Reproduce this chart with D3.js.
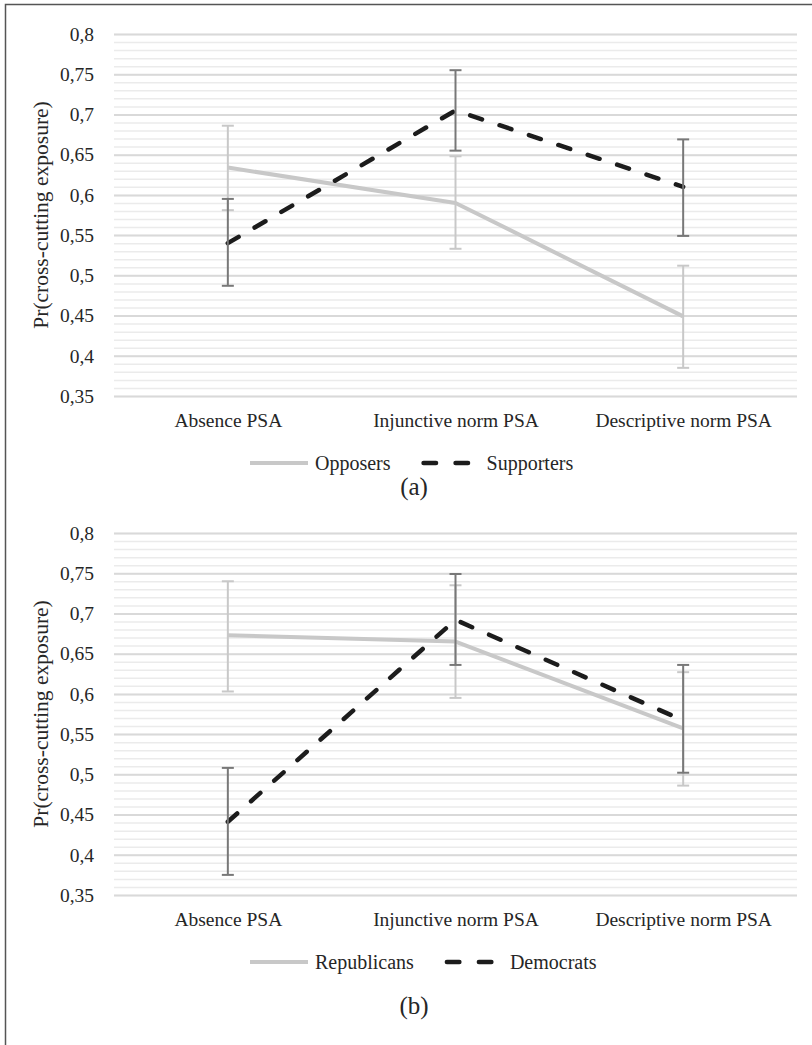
<!DOCTYPE html>
<html>
<head>
<meta charset="utf-8">
<script src="https://cdn.jsdelivr.net/npm/d3@7"></script>
<style>
  body { margin: 0; background: #fff; }
  svg { display: block; }
  text { font-family: "Liberation Serif", "Times New Roman", serif; fill: #262626; }
</style>
</head>
<body>
<div id="chart"></div>
<script>
const categories = ['Absence PSA', 'Injunctive norm PSA', 'Descriptive norm PSA'];
const yTicks = [0.35, 0.4, 0.45, 0.5, 0.55, 0.6, 0.65, 0.7, 0.75, 0.8];

// panel (a)
const opposers = [0.634, 0.590, 0.449];
const opposersLow = [0.581, 0.533, 0.385];
const opposersHigh = [0.686, 0.648, 0.512];
const supporters = [0.540, 0.705, 0.610];
const supportersLow = [0.487, 0.655, 0.549];
const supportersHigh = [0.595, 0.755, 0.669];

// panel (b)
const republicans = [0.673, 0.665, 0.557];
const republicansLow = [0.603, 0.595, 0.486];
const republicansHigh = [0.740, 0.735, 0.627];
const democrats = [0.441, 0.692, 0.567];
const democratsLow = [0.375, 0.636, 0.502];
const democratsHigh = [0.508, 0.749, 0.636];

const width = 812;
const height = 1045;
const FONT = '"Liberation Serif", "Times New Roman", serif';

const svg = d3.select('#chart')
  .append('svg')
  .attr('width', width)
  .attr('height', height);

// outer frame
svg.append('rect')
  .attr('x', 5.5)
  .attr('y', 4.5)
  .attr('width', width + 10)
  .attr('height', height + 10)
  .attr('fill', 'none')
  .attr('stroke', '#555')
  .attr('stroke-width', 1.5);

const LIGHT = '#c8c8c8';
const DARK = '#1c1c1c';
const BAR_DARK = '#787878';

function drawPanel(top, s1, s2, names, caption, captionOffset) {
  const plotLeft = 114;
  const plotRight = 797;
  const plotTop = top;
  const plotBottom = top + 362;

  const x = d3.scalePoint()
    .domain(categories)
    .range([plotLeft, plotRight])
    .padding(0.5);

  const y = d3.scaleLinear()
    .domain([0.35, 0.8])
    .range([plotBottom, plotTop]);

  const g = svg.append('g');

  // minor gridlines
  const minor = g.append('g')
    .attr('transform', `translate(${plotLeft}, 0)`)
    .call(d3.axisLeft(y).ticks(45).tickSize(-(plotRight - plotLeft)).tickFormat(''));
  minor.select('.domain').remove();
  minor.selectAll('line').attr('stroke', '#ebebeb').attr('stroke-width', 1.5);

  // major gridlines + labels
  const major = g.append('g')
    .attr('transform', `translate(${plotLeft}, 0)`)
    .attr('font-family', FONT)
    .call(d3.axisLeft(y)
      .tickValues(yTicks)
      .tickSize(-(plotRight - plotLeft))
      .tickPadding(20)
      .tickFormat(d => String(d).replace('.', ',')));
  major.attr('font-family', FONT);
  major.select('.domain').remove();
  major.selectAll('line').attr('stroke', '#d9d9d9').attr('stroke-width', 2);
  major.selectAll('text')
    .attr('fill', '#262626')
    .style('font-family', FONT)
    .style('font-size', '19.5px');

  // category labels
  const xAxis = g.append('g')
    .attr('transform', `translate(0, ${plotBottom})`)
    .call(d3.axisBottom(x).tickSize(0).tickPadding(17));
  xAxis.attr('font-family', FONT);
  xAxis.select('.domain').remove();
  xAxis.selectAll('text')
    .attr('fill', '#262626')
    .style('font-family', FONT)
    .style('font-size', '19.5px');

  // y axis title
  g.append('text')
    .attr('transform', `translate(48, ${(plotTop + plotBottom) / 2}) rotate(-90)`)
    .attr('text-anchor', 'middle')
    .style('font-size', '21.5px')
    .text('Pr(cross-cutting exposure)');

  const line = d3.line()
    .x((d, i) => x(categories[i]))
    .y(d => y(d));

  function errorBars(lo, hi, color, w) {
    const eb = g.append('g');
    categories.forEach((c, i) => {
      const cx = x(c);
      eb.append('line')
        .attr('x1', cx).attr('x2', cx)
        .attr('y1', y(lo[i])).attr('y2', y(hi[i]))
        .attr('stroke', color).attr('stroke-width', w);
      [lo[i], hi[i]].forEach(v => {
        eb.append('line')
          .attr('x1', cx - 6).attr('x2', cx + 6)
          .attr('y1', y(v)).attr('y2', y(v))
          .attr('stroke', color).attr('stroke-width', w);
      });
    });
  }

  g.append('path')
    .datum(s1.values)
    .attr('fill', 'none')
    .attr('stroke', LIGHT)
    .attr('stroke-width', 4)
    .attr('stroke-linejoin', 'round')
    .attr('d', line);
  errorBars(s1.low, s1.high, LIGHT, 2);

  g.append('path')
    .datum(s2.values)
    .attr('fill', 'none')
    .attr('stroke', DARK)
    .attr('stroke-width', 4.5)
    .attr('stroke-linecap', 'round')
    .attr('stroke-linejoin', 'round')
    .attr('stroke-dasharray', '12.5,18.5')
    .attr('d', line);
  errorBars(s2.low, s2.high, BAR_DARK, 2);

  // legend
  const ly = plotBottom + 67;
  const leg = g.append('g').attr('transform', `translate(0, ${ly})`);
  leg.append('line')
    .attr('x1', 250).attr('x2', 308)
    .attr('y1', 0).attr('y2', 0)
    .attr('stroke', LIGHT).attr('stroke-width', 4);
  const t1 = leg.append('text')
    .attr('x', 315).attr('y', 0).attr('dy', '0.33em')
    .style('font-size', '20px')
    .text(names[0]);
  const t1End = 315 + t1.node().getComputedTextLength();
  const dx = t1End + 33;
  leg.append('line')
    .attr('x1', dx).attr('x2', dx + 45)
    .attr('y1', 0).attr('y2', 0)
    .attr('stroke', DARK).attr('stroke-width', 4.5)
    .attr('stroke-linecap', 'round')
    .attr('stroke-dasharray', '12.5,19.5');
  leg.append('text')
    .attr('x', dx + 63).attr('y', 0).attr('dy', '0.33em')
    .style('font-size', '20px')
    .text(names[1]);

  // caption
  g.append('text')
    .attr('x', 414)
    .attr('y', plotBottom + captionOffset)
    .attr('dy', '0.33em')
    .attr('text-anchor', 'middle')
    .style('font-size', '25px')
    .attr('fill', '#111')
    .text(caption);
}

drawPanel(34,
  { values: opposers, low: opposersLow, high: opposersHigh },
  { values: supporters, low: supportersLow, high: supportersHigh },
  ['Opposers', 'Supporters'], '(a)', 91);

drawPanel(533,
  { values: republicans, low: republicansLow, high: republicansHigh },
  { values: democrats, low: democratsLow, high: democratsHigh },
  ['Republicans', 'Democrats'], '(b)', 111);
</script>
</body>
</html>
